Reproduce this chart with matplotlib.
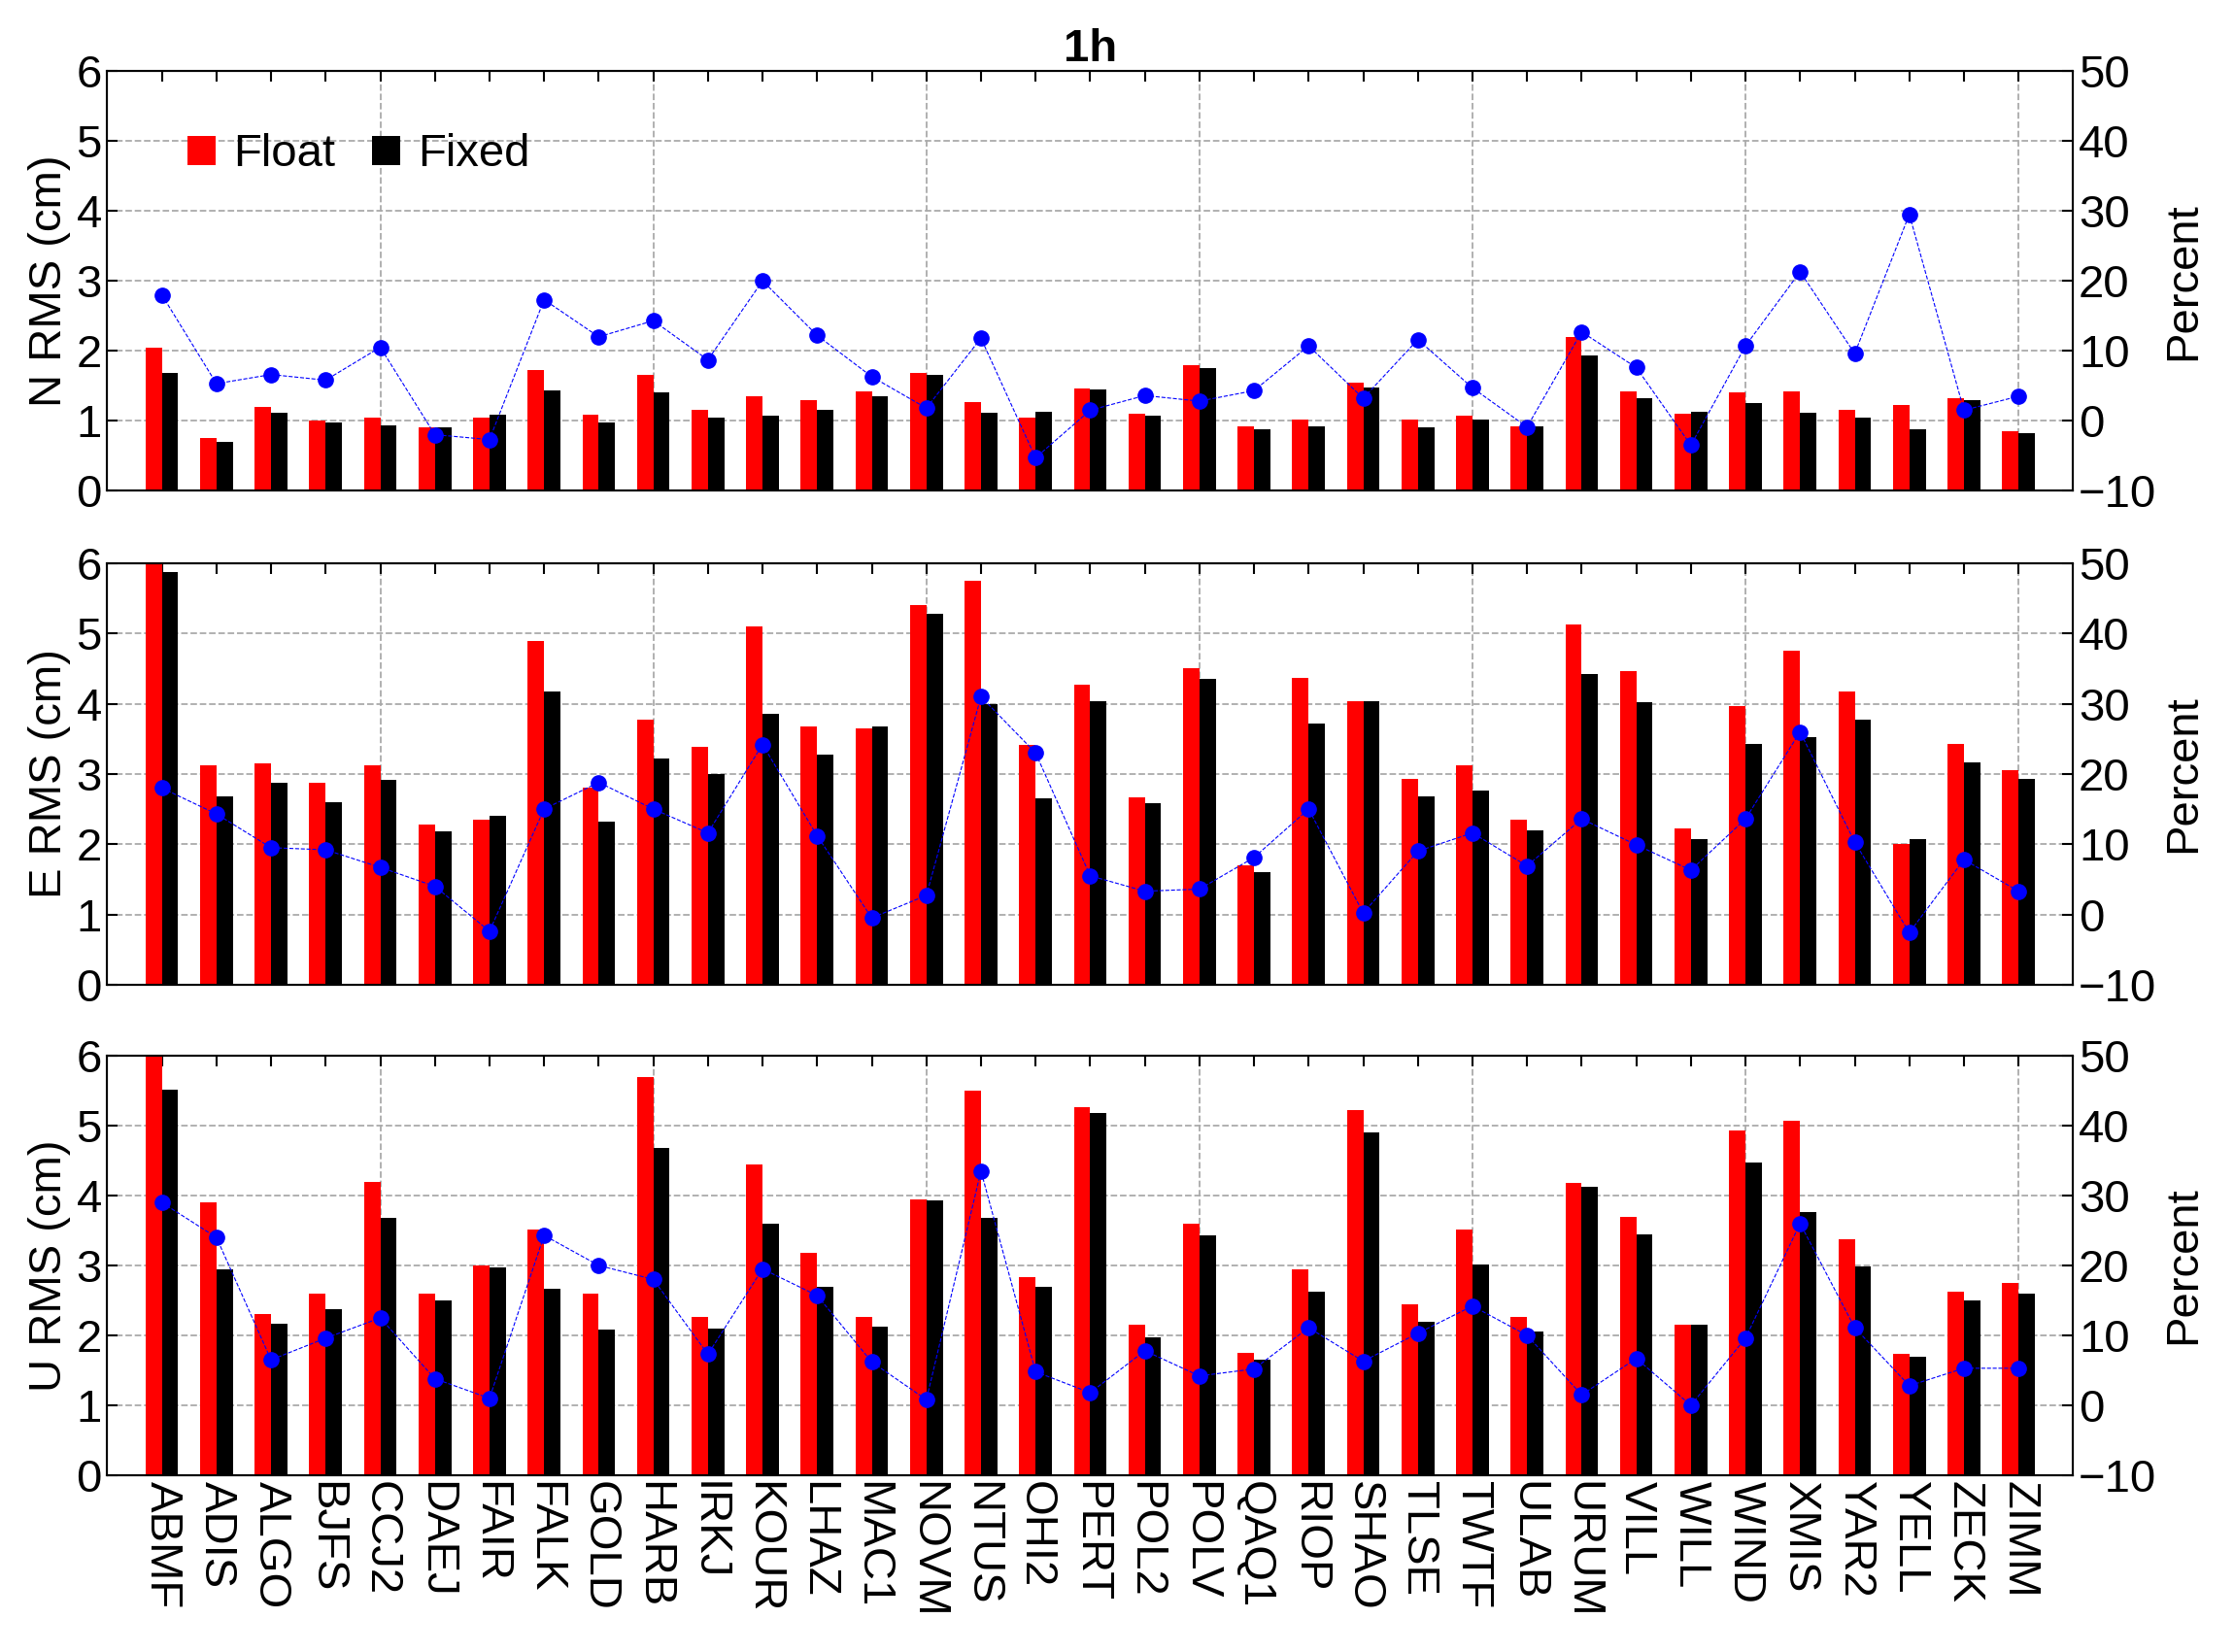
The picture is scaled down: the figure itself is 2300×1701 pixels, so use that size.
import matplotlib
matplotlib.use("Agg")
import matplotlib.pyplot as plt
import numpy as np

stations = ["ABMF","ADIS","ALGO","BJFS","CCJ2","DAEJ","FAIR","FALK","GOLD","HARB","IRKJ","KOUR","LHAZ","MAC1","NOVM","NTUS","OHI2","PERT","POL2","POLV","QAQ1","RIOP","SHAO","TLSE","TWTF","ULAB","URUM","VILL","WILL","WIND","XMIS","YAR2","YELL","ZECK","ZIMM"]

n_float = [2.05,0.75,1.2,1.0,1.05,0.9,1.05,1.72,1.08,1.65,1.15,1.35,1.3,1.42,1.68,1.27,1.05,1.46,1.1,1.8,0.92,1.02,1.55,1.02,1.07,0.92,2.2,1.42,1.1,1.4,1.42,1.15,1.23,1.32,0.85]
n_fixed = [1.68,0.7,1.12,0.97,0.93,0.9,1.08,1.43,0.97,1.4,1.05,1.07,1.15,1.35,1.65,1.12,1.13,1.45,1.07,1.75,0.88,0.92,1.48,0.9,1.02,0.92,1.93,1.32,1.13,1.25,1.12,1.05,0.88,1.3,0.82]
n_pct = [18,5.3,6.6,5.8,10.5,-2,-2.7,17.3,12,14.3,8.7,20,12.2,6.3,1.8,11.8,-5.3,1.5,3.6,2.8,4.3,10.7,3.2,11.6,4.7,-0.9,12.7,7.6,-3.5,10.7,21.3,9.6,29.5,1.5,3.5]

e_float = [6.0,3.12,3.15,2.88,3.12,2.28,2.35,4.9,2.8,3.78,3.38,5.1,3.68,3.65,5.4,5.75,3.42,4.27,2.67,4.5,1.7,4.37,4.03,2.93,3.12,2.35,5.13,4.47,2.22,3.97,4.75,4.18,2.0,3.43,3.05]
e_fixed = [5.87,2.68,2.87,2.6,2.92,2.18,2.4,4.17,2.32,3.22,3.0,3.86,3.27,3.68,5.28,4.0,2.65,4.03,2.58,4.35,1.6,3.72,4.03,2.68,2.77,2.2,4.43,4.02,2.07,3.43,3.52,3.77,2.07,3.17,2.93]
e_pct = [18,14.3,9.5,9.2,6.7,4,-2.4,15,18.8,15,11.6,24.2,11.2,-0.5,2.7,31,23,5.5,3.3,3.6,8.1,15,0.2,9,11.6,6.9,13.6,9.9,6.3,13.6,26,10.3,-2.6,7.8,3.3]

u_float = [6.0,3.9,2.3,2.6,4.2,2.6,3.0,3.52,2.6,5.7,2.27,4.45,3.18,2.27,3.95,5.5,2.83,5.27,2.15,3.6,1.75,2.95,5.22,2.45,3.52,2.27,4.18,3.7,2.15,4.93,5.07,3.37,1.73,2.63,2.75]
u_fixed = [5.52,2.95,2.17,2.37,3.68,2.5,2.97,2.67,2.08,4.68,2.1,3.6,2.7,2.13,3.93,3.68,2.7,5.18,1.97,3.43,1.65,2.62,4.9,2.2,3.02,2.05,4.12,3.45,2.15,4.47,3.77,2.98,1.7,2.5,2.6]
u_pct = [29,24,6.5,9.6,12.5,3.8,1,24.3,20,18,7.3,19.5,15.7,6.2,0.8,33.5,4.8,1.8,7.8,4.2,5.2,11.1,6.3,10.3,14.2,10,1.5,6.7,0,9.6,26,11.1,2.8,5.3,5.3]

plt.rcParams['font.family'] = ['Liberation Sans', 'DejaVu Sans']
fig = plt.figure(figsize=(23, 17.01), dpi=100)
panels = [("N RMS (cm)", n_float, n_fixed, n_pct, 0.703, 0.957),
          ("E RMS (cm)", e_float, e_fixed, e_pct, 0.404, 0.659),
          ("U RMS (cm)", u_float, u_fixed, u_pct, 0.107, 0.361)]
x = np.arange(len(stations))
L, R = 0.048, 0.928
fs = 34
for i, (lab, fl, fx, pc, b, t) in enumerate(panels):
    ax = fig.add_axes([L, b, R - L, t - b])
    ax.bar(x - 0.15, fl, 0.3, color='red', label='Float', zorder=2)
    ax.bar(x + 0.15, fx, 0.3, color='black', label='Fixed', zorder=2)
    ax.set_xlim(-1, 35)
    ax.set_ylim(0, 6)
    ax.set_yticks(range(7))
    ax.set_ylabel(lab, fontsize=fs, labelpad=4)
    ax.yaxis.grid(True, ls='--', color='#aaaaaa', lw=1.3, zorder=0)
    for v in range(4, 35, 5):
        ax.axvline(v, ls='--', color='#aaaaaa', lw=1.3, zorder=0)
    ax.set_xticks(x)
    if i == 2:
        ax.set_xticklabels(stations, rotation=-90, fontsize=fs)
    else:
        ax.set_xticklabels([])
    ax.tick_params(direction='in', labelsize=fs, length=8, width=1.5, top=True, pad=4)
    for s in ax.spines.values():
        s.set_linewidth(1.5)
    ax2 = ax.twinx()
    ax2.plot(x, pc, ls='--', color='blue', lw=0.8, marker='o', ms=11)
    ax2.set_ylim(-10, 50)
    ax2.set_yticks(range(-10, 51, 10))
    ax2.set_yticklabels(['\u221210'] + [str(v) for v in range(0, 51, 10)])
    ax2.set_ylabel("Percent", fontsize=fs)
    ax2.tick_params(direction='in', labelsize=fs, length=8, width=1.5, pad=4)
    if i == 0:
        ax.set_title("1h", fontsize=fs, fontweight='bold')
        ax.legend(loc='upper left', fontsize=fs, frameon=False, ncol=2,
                  handlelength=0.6, handleheight=0.6, handletextpad=0.4,
                  columnspacing=0.8, bbox_to_anchor=(0.02, 0.95))
fig.savefig("out.png", dpi=100)
